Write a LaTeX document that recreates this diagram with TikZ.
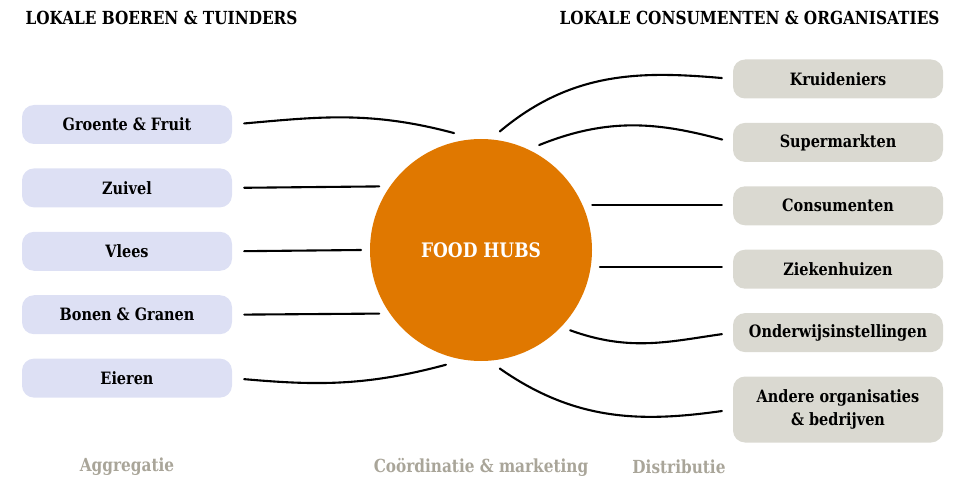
\documentclass[tikz,border=0pt]{standalone}
\usepackage{fontspec}
\setmainfont{DejaVu Serif}[FakeStretch=0.85]
\usetikzlibrary{positioning}

\definecolor{hubcolor}{HTML}{E07800}
\definecolor{supplierfill}{HTML}{DDE0F4}
\definecolor{buyerfill}{HTML}{DAD9D1}
\definecolor{stagegray}{HTML}{A9A599}

\begin{document}
\begin{tikzpicture}[x=1pt,y=1pt,node distance=24pt,
		hub/.style={circle,fill=hubcolor,minimum size=222pt,inner sep=0pt,outer sep=9pt,
			text=white,font=\bfseries\fontsize{20}{22}\selectfont},
		supplier/.style={rounded corners=12pt,fill=supplierfill,minimum width=210pt,
			minimum height=39pt,align=center,font=\bfseries\fontsize{17}{23}\selectfont},
		buyer/.style={supplier,fill=buyerfill},
		title/.style={font=\bfseries\fontsize{18}{20}\selectfont},
		stage/.style={text=stagegray,font=\bfseries\fontsize{18}{20}\selectfont},
		link/.style={line width=2.1pt,line cap=round}]
		
		\useasboundingbox (0,0) rectangle (966,480);
		
		% Titles
		\node[title,anchor=west] (titleL) at (22,462) {LOKALE BOEREN \& TUINDERS};
		\node[title,anchor=east] (titleR) at (943,462) {LOKALE CONSUMENTEN \& ORGANISATIES};
		
		% The food hub
		\node[hub] (hub) at (481,230) {FOOD HUBS};
		
		% Local farmers (left column)
		\node[supplier] (fruit) at (127,355.5) {Groente \& Fruit};
		\node[supplier,below=of fruit] (dairy) {Zuivel};
		\node[supplier,below=of dairy] (meat) {Vlees};
		\node[supplier,below=of meat] (grain) {Bonen \& Granen};
		\node[supplier,below=of grain] (eggs) {Eieren};
		
		% Local buyers (right column)
		\node[buyer] (grocer) at (838,401) {Kruideniers};
		\node[buyer,below=of grocer] (market) {Supermarkten};
		\node[buyer,below=of market] (consumer) {Consumenten};
		\node[buyer,below=of consumer] (hospital) {Ziekenhuizen};
		\node[buyer,below=of hospital] (school) {Onderwijsinstellingen};
		\node[buyer,minimum height=66pt,below=of school] (other) {Andere organisaties\\\& bedrijven};
		
		% Links farmers -> hub
		\draw[link,shorten <=12pt] (fruit.east) to[out=5,in=165] (hub.103);
		\draw[link,shorten <=12pt] (dairy.east) -- (hub.148);
		\draw[link,shorten <=12pt] (meat.east) -- (hub.180);
		\draw[link,shorten <=12pt] (grain.east) -- (hub.212);
		\draw[link,shorten <=12pt] (eggs.east) to[out=-5,in=195] (hub.253);
		
		% Links hub -> buyers
		\draw[link,shorten >=11pt] (hub.81) to[out=40,in=175] (grocer.west);
		\draw[link,shorten >=11pt] (hub.61) to[out=22,in=165] (market.west);
		\draw[link,shorten >=11pt] (hub.22) -- (consumer.west |- hub.22);
		\draw[link,shorten >=11pt] (hub.-8) -- (hospital.west |- hub.-8);
		\draw[link,shorten >=11pt] (hub.-42) to[out=-20,in=188] (school.west);
		\draw[link,shorten >=11pt] (hub.-81) to[out=-35,in=188] (other.west);
		
		% Stages along the bottom
		\node[stage] (aggr) at (127,13) {Aggregatie};
		\node[stage] (coord) at (481,13) {Coördinatie \& marketing};
		\node[stage] (distr) at (679,13) {Distributie};
		
	\end{tikzpicture}
\end{document}
